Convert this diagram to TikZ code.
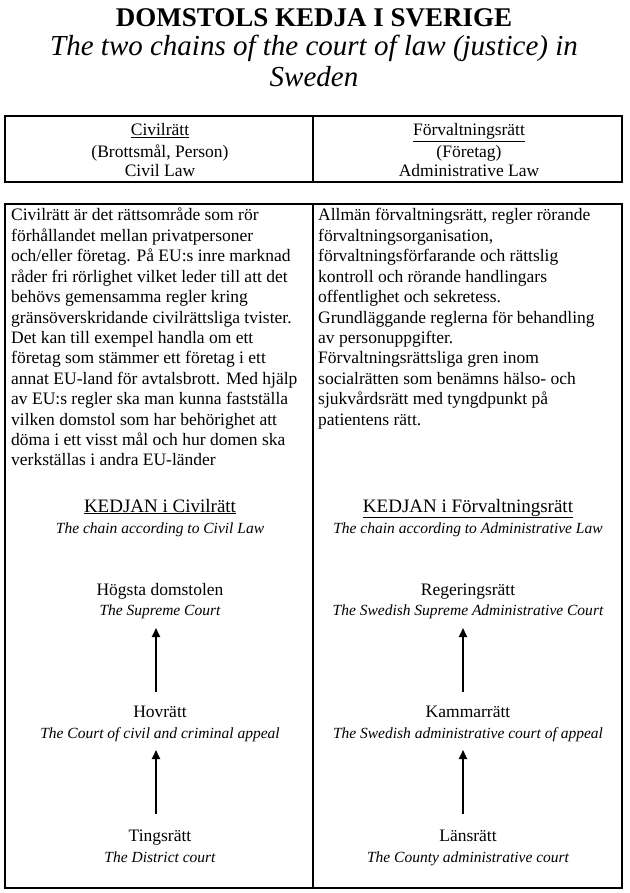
\documentclass[tikz,border=0pt]{standalone}
\usepackage{fontspec}
\setmainfont{Liberation Serif}
\usetikzlibrary{arrows.meta}
\begin{document}
\begin{tikzpicture}[x=1pt,y=-1pt,
  frame/.style={draw=black,line width=1.2pt},
  lbl/.style={inner sep=0pt,anchor=base,font=\fontsize{17.5}{20}\selectfont},
  khead/.style={inner sep=0pt,anchor=base,font=\fontsize{19}{22}\selectfont},
  itl/.style={inner sep=0pt,anchor=base,font=\fontsize{15.5}{19}\selectfont\itshape},
  para/.style={inner sep=0pt,anchor=base west,font=\fontsize{17.5}{20.4}\selectfont},
  uparrow/.style={line width=2pt,-{Triangle[length=9pt,width=8pt]}}]
\useasboundingbox[fill=white] (0,0) rectangle (629,893);
% title
\node[inner sep=0pt,anchor=base,font=\fontsize{27}{30}\selectfont\bfseries] (title) at (314,27) {DOMSTOLS KEDJA I SVERIGE};
\node[inner sep=0pt,anchor=base,font=\fontsize{29}{30}\selectfont\itshape] (sub1) at (314,56) {The two chains of the court of law (justice) in};
\node[inner sep=0pt,anchor=base,font=\fontsize{29}{30}\selectfont\itshape] (sub2) at (314,87) {Sweden};
% header box
\draw[frame] (5,116) rectangle (622,182);
\draw[frame] (313,116) -- (313,182);
\node[lbl] (h1) at (160,136) {\underline{Civilrätt}};
\node[lbl] (h2) at (160,158) {(Brottsmål, Person)};
\node[lbl] (h3) at (160,177) {Civil Law};
\node[lbl] (h4) at (469,136) {\underline{Förvaltningsrätt}};
\node[lbl] (h5) at (469,158) {(Företag)};
\node[lbl] (h6) at (469,177) {Administrative Law};
% main box
\draw[frame] (5,204) rectangle (622,888);
\draw[frame] (313,204) -- (313,888);
\node[para] (pl) at (11,221) {\parbox[t]{300pt}{\raggedright
Civilrätt är det rättsområde som rör\\
förhållandet mellan privatpersoner\\
och/eller företag. På EU:s inre marknad\\
råder fri rörlighet vilket leder till att det\\
behövs gemensamma regler kring\\
gränsöverskridande civilrättsliga tvister.\\
Det kan till exempel handla om ett\\
företag som stämmer ett företag i ett\\
annat EU-land för avtalsbrott. Med hjälp\\
av EU:s regler ska man kunna fastställa\\
vilken domstol som har behörighet att\\
döma i ett visst mål och hur domen ska\\
verkställas i andra EU-länder}};
\node[para] (pr) at (318,221) {\parbox[t]{300pt}{\raggedright
Allmän förvaltningsrätt, regler rörande\\
förvaltningsorganisation,\\
förvaltningsförfarande och rättslig\\
kontroll och rörande handlingars\\
offentlighet och sekretess.\\
Grundläggande reglerna för behandling\\
av personuppgifter.\\
Förvaltningsrättsliga gren inom\\
socialrätten som benämns hälso- och\\
sjukvårdsrätt med tyngdpunkt på\\
patientens rätt.}};
% chains
\node[khead] (kl) at (160,512) {\underline{KEDJAN i Civilrätt}};
\node[itl] (kle) at (160,533) {The chain according to Civil Law};
\node[khead] (kr) at (468,512) {\underline{KEDJAN i Förvaltningsrätt}};
\node[itl] (kre) at (468,533) {The chain according to Administrative Law};
\node[lbl] (l1) at (160,595) {Högsta domstolen};
\node[itl] (l1e) at (160,615) {The Supreme Court};
\node[lbl] (l2) at (160,717) {Hovrätt};
\node[itl] (l2e) at (160,738) {The Court of civil and criminal appeal};
\node[lbl] (l3) at (160,841) {Tingsrätt};
\node[itl] (l3e) at (160,862) {The District court};
\node[lbl] (r1) at (468,595) {Regeringsrätt};
\node[itl] (r1e) at (468,615) {The Swedish Supreme Administrative Court};
\node[lbl] (r2) at (468,717) {Kammarrätt};
\node[itl] (r2e) at (468,738) {The Swedish administrative court of appeal};
\node[lbl] (r3) at (468,841) {Länsrätt};
\node[itl] (r3e) at (468,862) {The County administrative court};
% arrows
\coordinate (la1) at (156,692); \coordinate (la1t) at (156,628);
\coordinate (la2) at (156,814); \coordinate (la2t) at (156,750);
\coordinate (ra1) at (463,692); \coordinate (ra1t) at (463,628);
\coordinate (ra2) at (463,814); \coordinate (ra2t) at (463,750);
\draw[uparrow] (la1) -- (la1t);
\draw[uparrow] (la2) -- (la2t);
\draw[uparrow] (ra1) -- (ra1t);
\draw[uparrow] (ra2) -- (ra2t);
\end{tikzpicture}
\end{document}
